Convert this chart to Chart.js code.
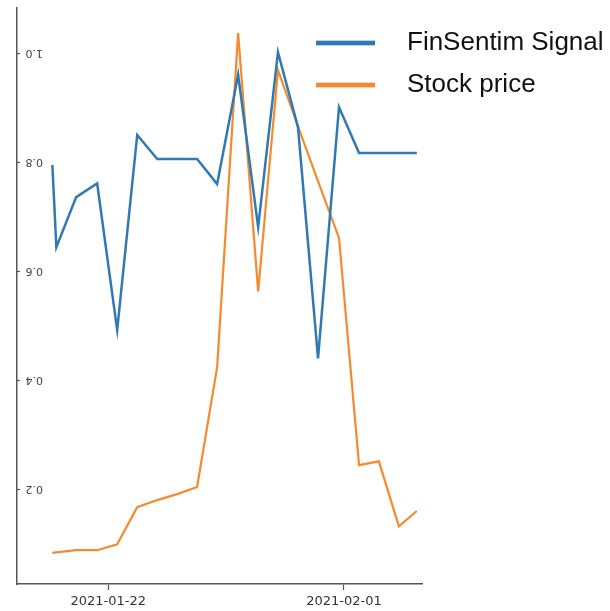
<!DOCTYPE html>
<html>
<head>
<meta charset="utf-8">
<script src="https://cdn.jsdelivr.net/npm/chart.js@4/dist/chart.umd.min.js"></script>
<style>
  html, body { margin: 0; padding: 0; background: #ffffff; }
  canvas { display: block; }
</style>
</head>
<body>
<canvas id="chart" width="610" height="611"></canvas>
<script>
// Sample positions, in days relative to 2021-01-22
const dayOffsets = [-2.37, -2.20, -1.36, -0.47, 0.38, 1.23, 2.08, 2.92, 3.77, 4.62,
                    5.51, 6.36, 7.20, 8.05, 8.90, 9.79, 10.64, 11.48, 12.33, 13.09];

// Normalised series values
const finSentimSignal = [0.795, 0.644, 0.736, 0.761, 0.492, 0.850, 0.806, 0.806, 0.806, 0.760,
                         0.961, 0.681, 1.002, 0.864, 0.440, 0.901, 0.817, 0.817, 0.817, 0.817];
const stockPrice = [0.083, 0.084, 0.088, 0.088, 0.099, 0.167, 0.180, 0.191, 0.204, 0.424,
                    1.037, 0.563, 0.969, 0.866, 0.765, 0.661, 0.244, 0.251, 0.132, 0.160];

const seriesLabels = ['FinSentim Signal', 'Stock price'];
const seriesColors = ['#3079b2', '#f58a2e'];

// Axis ticks
const xTickDays = [0, 10];
const xTickLabels = ['2021-01-22', '2021-02-01'];
const yTickValues = [0.2, 0.4, 0.6, 0.8, 1.0];

const toPoints = values => values.map((v, i) => ({ x: dayOffsets[i], y: v }));

// Legend swatch: a short thick line followed by empty space before the label
function lineSwatch(color) {
  const c = document.createElement('canvas');
  c.width = 78;
  c.height = 8;
  const g = c.getContext('2d');
  g.fillStyle = color;
  g.globalAlpha = 0.35;
  g.fillRect(0, 1, 59, 6);
  g.globalAlpha = 1;
  g.fillRect(0, 2, 59, 4);
  return c;
}

// Place the legend box in the upper right, overlapping the plot edge
const legendPlacement = {
  id: 'legendPlacement',
  afterLayout(chart) {
    const lg = chart.legend;
    if (!lg) return;
    lg.left = 300;
    lg.top = 14;
    lg.right = 610;
    lg.bottom = 600;
  }
};

new Chart(document.getElementById('chart'), {
  type: 'line',
  data: {
    datasets: [
      {
        label: seriesLabels[0],
        data: toPoints(finSentimSignal),
        borderColor: seriesColors[0],
        backgroundColor: seriesColors[0],
        borderWidth: 2.5,
        pointRadius: 0,
        tension: 0,
        fill: false
      },
      {
        label: seriesLabels[1],
        data: toPoints(stockPrice),
        borderColor: seriesColors[1],
        backgroundColor: seriesColors[1],
        borderWidth: 2.2,
        pointRadius: 0,
        tension: 0,
        fill: false
      }
    ]
  },
  options: {
    responsive: false,
    animation: false,
    devicePixelRatio: 1,
    layout: { padding: { top: 8, right: 188, bottom: 0, left: 0 } },
    plugins: {
      tooltip: { enabled: false },
      legend: {
        position: 'chartArea',
        align: 'start',
        labels: {
          usePointStyle: true,
          pointStyleWidth: 78,
          boxHeight: 8,
          padding: 16,
          color: '#111111',
          font: { family: '"Liberation Sans", Arial, sans-serif', size: 26 },
          generateLabels: chart => chart.data.datasets.map((ds, i) => ({
            text: ds.label,
            pointStyle: lineSwatch(ds.borderColor),
            fillStyle: ds.borderColor,
            strokeStyle: ds.borderColor,
            lineWidth: 0,
            hidden: false,
            fontColor: '#111111',
            datasetIndex: i
          }))
        }
      }
    },
    scales: {
      x: {
        type: 'linear',
        min: -3.87,
        max: 13.31,
        afterFit: s => { s.height = 27; s.paddingLeft = 0; s.paddingRight = 0; },
        afterBuildTicks: s => { s.ticks = xTickDays.map(v => ({ value: v })); },
        border: { display: true, color: '#555555', width: 1.5 },
        grid: { drawOnChartArea: false, drawTicks: true, tickLength: 6, tickColor: '#555555', tickWidth: 1.2 },
        ticks: {
          autoSkip: false,
          maxRotation: 0,
          padding: 4,
          color: '#333333',
          font: { family: '"DejaVu Sans", sans-serif', size: 13 },
          callback: v => xTickLabels[xTickDays.indexOf(v)]
        }
      },
      y: {
        type: 'linear',
        position: 'left',
        min: 0.026,
        max: 1.083,
        afterFit: s => { s.width = 17; s.paddingTop = 0; s.paddingBottom = 0; },
        afterBuildTicks: s => { s.ticks = yTickValues.map(v => ({ value: v })); },
        border: { display: true, color: '#555555', width: 1.5 },
        grid: { drawOnChartArea: false, drawTicks: true, tickLength: -3, tickColor: '#555555', tickWidth: 1.2 },
        ticks: {
          mirror: true,
          minRotation: 180,
          maxRotation: 180,
          crossAlign: 'near',
          padding: 26,
          color: '#444444',
          font: { family: '"DejaVu Sans", sans-serif', size: 11 },
          callback: v => v.toFixed(1)
        }
      }
    }
  },
  plugins: [legendPlacement]
});
</script>
</body>
</html>
